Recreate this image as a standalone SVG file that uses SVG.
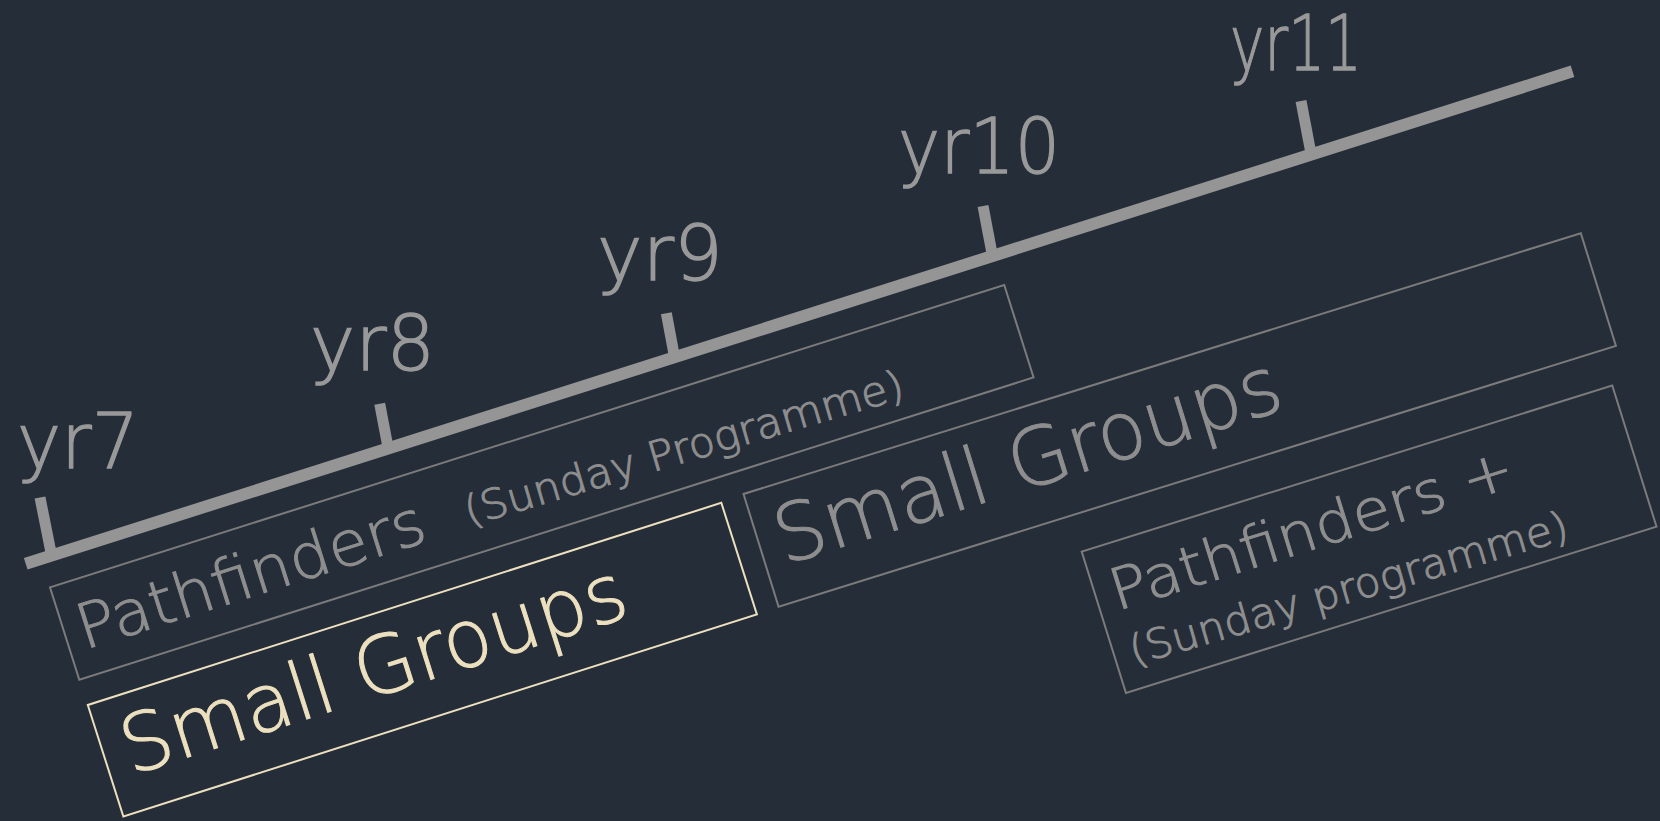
<svg xmlns="http://www.w3.org/2000/svg" width="1660" height="821" viewBox="0 0 1660 821">
<style>
.bg{fill:#252d39}
.axis{stroke:#959595;stroke-width:12;stroke-linecap:butt}
.tick{stroke:#959595;stroke-width:11;stroke-linecap:butt}
.yr{font-family:"DejaVu Sans","Liberation Sans",sans-serif;font-weight:300;font-size:76px;fill:#999999;stroke:#999999;stroke-width:1.3}
.box{fill:none;stroke:#7b7b7b;stroke-width:2}
.box-y{fill:none;stroke:#ece0bf;stroke-width:2}
.lbl{font-family:"DejaVu Sans","Liberation Sans",sans-serif;font-weight:300;fill:#8e8e8e;stroke:#8e8e8e;stroke-width:1}
.lbl-y{fill:#ece0bf;stroke:#ece0bf}
</style>
<rect class="bg" x="0" y="0" width="1660" height="821"/>
<g id="connectors">
<line class="axis" x1="25.7" y1="563.8" x2="1572.5" y2="71.3"/>
</g>
<g id="yr7">
<line class="tick" x1="40" y1="497.5" x2="51.6" y2="555.5"/>
<text class="yr" x="17" y="468" textLength="122" lengthAdjust="spacingAndGlyphs">yr7</text>
</g>
<g id="yr8">
<line class="tick" x1="379.7" y1="403.8" x2="388.2" y2="448.4"/>
<text class="yr" x="310" y="370" textLength="125" lengthAdjust="spacingAndGlyphs">yr8</text>
</g>
<g id="yr9">
<line class="tick" x1="666.3" y1="313.3" x2="674.6" y2="357.2"/>
<text class="yr" x="597" y="280" textLength="126" lengthAdjust="spacingAndGlyphs">yr9</text>
</g>
<g id="yr10">
<line class="tick" x1="983" y1="206" x2="992.5" y2="256"/>
<text class="yr" x="898" y="173" textLength="162" lengthAdjust="spacingAndGlyphs">yr10</text>
</g>
<g id="yr11">
<line class="tick" x1="1301" y1="101" x2="1311.2" y2="154.5"/>
<text class="yr" x="1230" y="70" font-size="74" textLength="132" lengthAdjust="spacingAndGlyphs">yr11</text>
</g>
<g id="pathfinders" transform="translate(50,587.3) rotate(-17.58)">
<rect class="box" x="0" y="0" width="1001" height="97"/>
<text class="lbl" x="14" y="70" font-size="62" textLength="362" lengthAdjust="spacingAndGlyphs">Pathfinders</text>
<text class="lbl" transform="rotate(1.2 418 68)" x="418" y="68" font-size="41" textLength="456" lengthAdjust="spacingAndGlyphs">(Sunday Programme)</text>
</g>
<g id="small-groups-1" transform="translate(87.8,705) rotate(-17.7)">
<rect class="box-y" x="0" y="0" width="665" height="117"/>
<text class="lbl lbl-y" x="20" y="80" font-size="80" textLength="526" lengthAdjust="spacingAndGlyphs">Small Groups</text>
</g>
<g id="small-groups-2" transform="translate(743.5,494) rotate(-17.3)">
<rect class="box" x="0" y="0" width="877" height="118"/>
<text class="lbl" x="18" y="80" font-size="80" textLength="526" lengthAdjust="spacingAndGlyphs">Small Groups</text>
</g>
<g id="pathfinders-plus" transform="translate(1081.7,551.7) rotate(-17.4)">
<rect class="box" x="0" y="0" width="556" height="148"/>
<text class="lbl" x="16" y="67" font-size="57" textLength="420" lengthAdjust="spacingAndGlyphs">Pathfinders +</text>
<text class="lbl" transform="rotate(1.2 16 124)" x="16" y="124" font-size="41" textLength="455" lengthAdjust="spacingAndGlyphs">(Sunday programme)</text>
</g>
</svg>
